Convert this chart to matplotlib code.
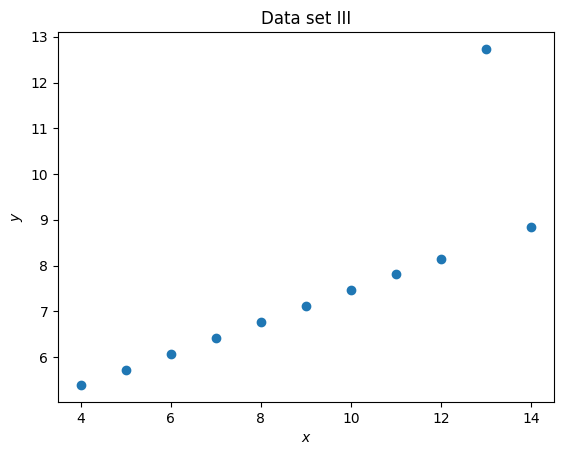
import matplotlib
matplotlib.use("Agg")
import matplotlib.pyplot as plt

# Anscombe's quartet, data set III
x = [10, 8, 13, 9, 11, 14, 6, 4, 12, 7, 5]
y = [7.46, 6.77, 12.74, 7.11, 7.81, 8.84, 6.08, 5.39, 8.15, 6.42, 5.73]

fig = plt.figure(figsize=(5.64, 4.55), dpi=100)
ax = fig.add_axes([0.1028, 0.1165, 0.8794, 0.8132])
ax.scatter(x, y)
ax.set_title("Data set III")
ax.set_xlabel("$x$")
ax.set_ylabel("$y$")

fig.savefig("out.png", dpi=100)
